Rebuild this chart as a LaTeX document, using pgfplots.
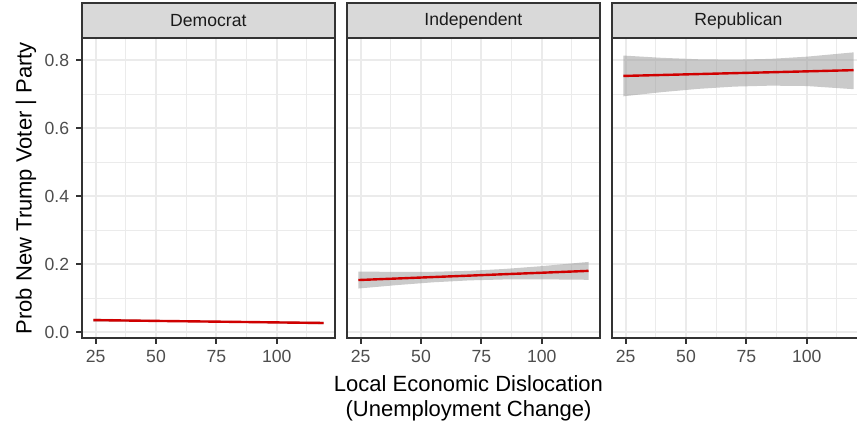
\documentclass[border=0pt]{standalone}
\usepackage{pgfplots}
\pgfplotsset{compat=1.18}
\usepackage{fontspec}
\setmainfont{Liberation Sans}

\definecolor{grey10}{HTML}{1A1A1A}
\definecolor{grey20}{HTML}{333333}
\definecolor{grey30}{HTML}{4D4D4D}
\definecolor{grey60}{HTML}{999999}
\definecolor{grey85}{HTML}{D9D9D9}
\definecolor{grey92}{HTML}{EBEBEB}
\definecolor{fitred}{HTML}{D00000}

% one facet panel of the fitted probability
\pgfplotsset{
  panel/.style={
    scale only axis, width=126.65pt, height=149.85pt,
    xmin=19.2, xmax=124.16, ymin=-0.0177, ymax=0.8648,
    xtick={25,50,75,100}, xticklabels={25,50,75,100},
    minor xtick={37.5,62.5,87.5,112.5},
    ytick={0,0.2,0.4,0.6,0.8},
    minor ytick={0.1,0.3,0.5,0.7},
    grid=both,
    major grid style={grey92, line width=1.07pt},
    minor grid style={grey92, line width=0.53pt},
    axis line style={grey20, line width=1.07pt},
    tick align=outside, xtick pos=left, ytick pos=left,
    major tick length=2.75pt, minor tick length=0pt,
    tick style={grey20, line width=1.07pt},
    ticklabel style={font=\fontsize{8.8}{10}\selectfont, text=grey30},
    /pgf/number format/assume math mode=true,
  },
  ribbon/.style={draw=none, fill=grey60, fill opacity=0.52},
  fit/.style={fitred, line width=1.2pt, no marks},
}

% strip with the facet name above a panel
\newcommand{\strip}[2]{%
  \draw[grey20, line width=1.07pt, fill=grey85]
    (#1.north west) rectangle ([yshift=17.5pt]#1.north east);
  \node[font=\fontsize{8.8}{10}\selectfont, text=grey10]
    at ([yshift=8.75pt]#1.north) {#2};
}

\begin{document}
\begin{tikzpicture}
\useasboundingbox (0,0) rectangle (428.5pt,-212pt);
\clip (0,0) rectangle (428.5pt,-212pt);

% Democrat
\begin{axis}[panel, name=dem, at={(40.85pt,-19.15pt)}, anchor=north west,
  yticklabels={0.0,0.2,0.4,0.6,0.8}]
\addplot[ribbon] coordinates {
  (24,0.0395) (40,0.0371) (55,0.0350) (70,0.0333) (85,0.0321) (100,0.0312) (119.4,0.0305)
  (119.4,0.0225) (100,0.0252) (85,0.0271) (70,0.0285) (55,0.0294) (40,0.0301) (24,0.0305)
};
\addplot[fit] coordinates {
  (24,0.0350) (40,0.0336) (55,0.0322) (70,0.0309) (85,0.0296) (100,0.0282) (119.4,0.0265)
};
\end{axis}
\strip{dem}{Democrat}

% Independent
\begin{axis}[panel, name=ind, at={(173.35pt,-19.15pt)}, anchor=north west,
  ymajorticks=false]
\addplot[ribbon] coordinates {
  (24,0.1780) (40,0.1769) (55,0.1773) (70,0.1800) (85,0.1858) (100,0.1939) (119.4,0.2063)
  (119.4,0.1537) (100,0.1551) (85,0.1548) (70,0.1520) (55,0.1463) (40,0.1381) (24,0.1280)
};
\addplot[fit] coordinates {
  (24,0.1530) (40,0.1575) (55,0.1618) (70,0.1660) (85,0.1703) (100,0.1745) (119.4,0.1800)
};
\end{axis}
\strip{ind}{Independent}

% Republican
\begin{axis}[panel, name=rep, at={(305.85pt,-19.15pt)}, anchor=north west,
  ymajorticks=false]
\addplot[ribbon] coordinates {
  (24,0.8140) (40,0.8073) (55,0.8031) (70,0.8018) (85,0.8042) (100,0.8107) (119.4,0.8234)
  (119.4,0.7150) (100,0.7243) (85,0.7254) (70,0.7226) (55,0.7159) (40,0.7063) (24,0.6940)
};
\addplot[fit] coordinates {
  (24,0.7540) (40,0.7568) (55,0.7595) (70,0.7622) (85,0.7648) (100,0.7675) (119.4,0.7710)
};
\end{axis}
\strip{rep}{Republican}

% axis titles
\node[rotate=90, anchor=base, inner sep=0pt, font=\fontsize{11}{13}\selectfont]
  at (15.85pt,-94.1pt) {Prob New Trump Voter | Party};
\node[anchor=base, inner sep=0pt, font=\fontsize{11}{13}\selectfont]
  at (234.25pt,-195.85pt) {Local Economic Dislocation};
\node[anchor=base, inner sep=0pt, font=\fontsize{11}{13}\selectfont]
  at (234.25pt,-208.35pt) {(Unemployment Change)};
\end{tikzpicture}
\end{document}
